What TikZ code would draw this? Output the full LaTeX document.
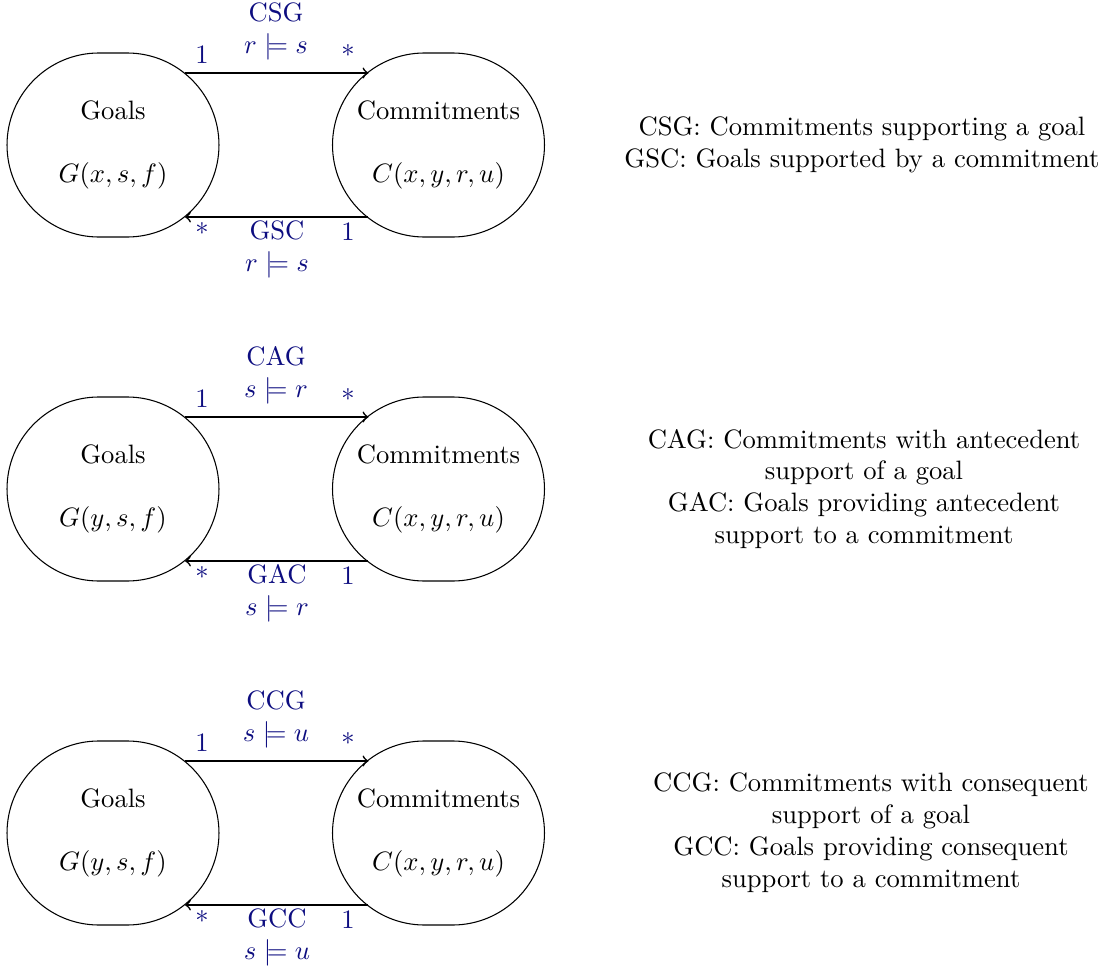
\documentclass[tikz,border=0pt]{standalone}
\usetikzlibrary{calc,shapes.misc}
\definecolor{navy}{rgb}{0.05,0.05,0.5}
\begin{document}
\begin{tikzpicture}[x=0.376pt,y=-0.376pt,
  ent/.style={draw, rounded rectangle, minimum width=79.7pt, minimum height=69.2pt, align=center, inner sep=0pt},
  lbl/.style={text=navy, inner sep=0pt, align=center},
  arr/.style={->, line width=0.6pt},
  desc/.style={align=center, inner sep=0pt}]
\useasboundingbox (0,0) rectangle (1105,969);

% Row 1
\node[ent] (g1) at (113,145) {Goals\\[\baselineskip]$G(x,s,f)$};
\node[ent] (c1) at (438.5,145) {Commitments\\[\baselineskip]$C(x,y,r,u)$};
\draw[arr] ($(g1.center)+(72,-72)$) -- ($(c1.center)+(-70,-72)$);
\draw[arr] ($(c1.center)+(-71,72)$) -- ($(g1.center)+(72,72)$);
\node[lbl] (l1a) at (276,31) {CSG\\$r\models s$};
\node[lbl] (l1b) at (202,55) {1};
\node[lbl] (l1c) at (348,55) {*};
\node[lbl] (l1d) at (277,249) {GSC\\$r\models s$};
\node[lbl] (l1e) at (202,233) {*};
\node[lbl] (l1f) at (348,232) {1};
\node[desc] (d1) at (862,145) {CSG: Commitments supporting a goal\\GSC: Goals supported by a commitment};

% Row 2
\node[ent] (g2) at (113,489) {Goals\\[\baselineskip]$G(y,s,f)$};
\node[ent] (c2) at (438.5,489) {Commitments\\[\baselineskip]$C(x,y,r,u)$};
\draw[arr] ($(g2.center)+(72,-72)$) -- ($(c2.center)+(-70,-72)$);
\draw[arr] ($(c2.center)+(-71,72)$) -- ($(g2.center)+(72,72)$);
\node[lbl] (l2a) at (276,375) {CAG\\$s\models r$};
\node[lbl] (l2b) at (202,399) {1};
\node[lbl] (l2c) at (348,399) {*};
\node[lbl] (l2d) at (277,593) {GAC\\$s\models r$};
\node[lbl] (l2e) at (202,577) {*};
\node[lbl] (l2f) at (348,576) {1};
\node[desc] (d2) at (864,489) {CAG: Commitments with antecedent\\support of a goal\\GAC: Goals providing antecedent\\support to a commitment};

% Row 3
\node[ent] (g3) at (113,833) {Goals\\[\baselineskip]$G(y,s,f)$};
\node[ent] (c3) at (438.5,833) {Commitments\\[\baselineskip]$C(x,y,r,u)$};
\draw[arr] ($(g3.center)+(72,-72)$) -- ($(c3.center)+(-70,-72)$);
\draw[arr] ($(c3.center)+(-71,72)$) -- ($(g3.center)+(72,72)$);
\node[lbl] (l3a) at (276,719) {CCG\\$s\models u$};
\node[lbl] (l3b) at (202,743) {1};
\node[lbl] (l3c) at (348,743) {*};
\node[lbl] (l3d) at (277,937) {GCC\\$s\models u$};
\node[lbl] (l3e) at (202,921) {*};
\node[lbl] (l3f) at (348,920) {1};
\node[desc] (d3) at (871,833) {CCG: Commitments with consequent\\support of a goal\\GCC: Goals providing consequent\\support to a commitment};
\end{tikzpicture}
\end{document}
